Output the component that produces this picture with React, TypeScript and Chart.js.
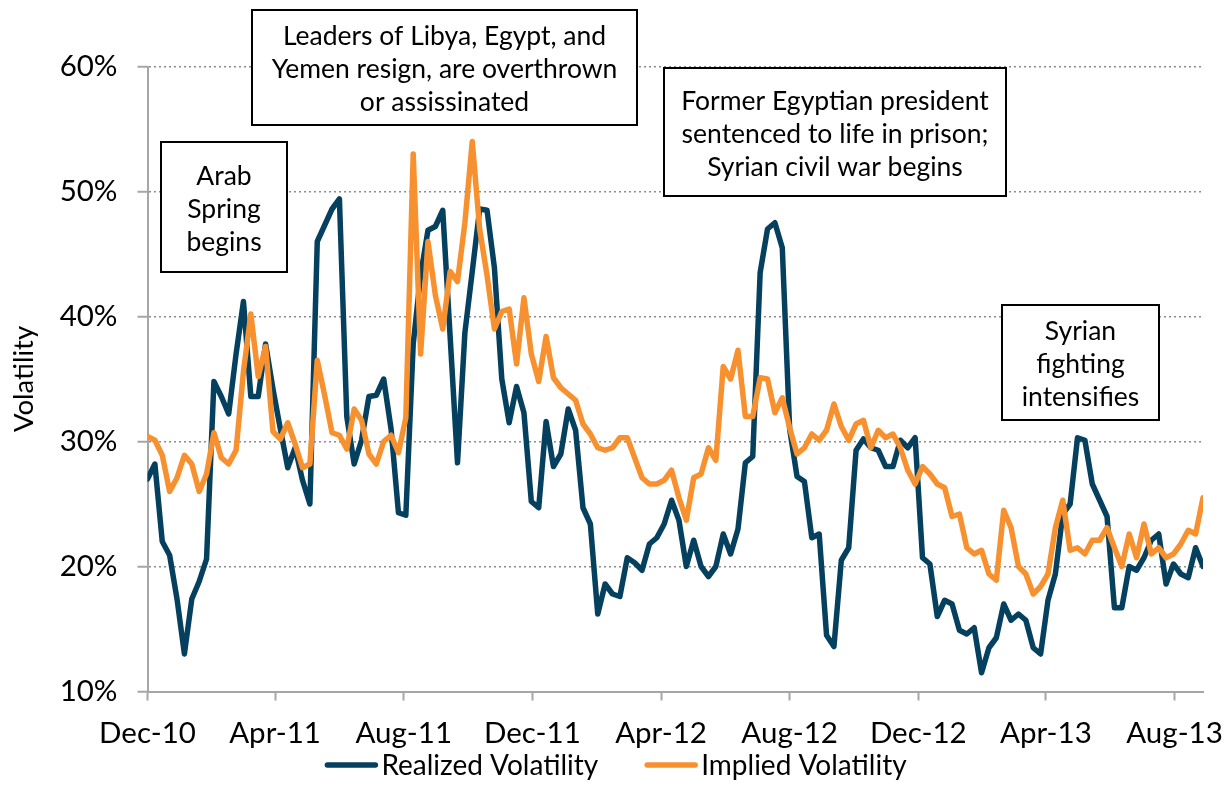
import React, { useEffect, useRef } from "react";
import { Chart, registerables } from "chart.js";

Chart.register(...registerables);

// ---------- DATA ----------
const startDate = "2010-12-01";
const stepDays = 7; // weekly observations

const tickLabels = ["Dec-10", "Apr-11", "Aug-11", "Dec-11", "Apr-12", "Aug-12", "Dec-12", "Apr-13", "Aug-13"];
const tickDates = ["2010-12-01", "2011-04-01", "2011-08-01", "2011-12-01", "2012-04-01", "2012-08-01", "2012-12-01", "2013-04-01", "2013-08-01"];

const yTicks = [10, 20, 30, 40, 50, 60];

const seriesNames = ["Realized Volatility", "Implied Volatility"];

const realized = [
  27, 28.2, 22, 20.9, 17.4, 13, 17.4, 18.8, 20.6, 34.8,
  33.6, 32.2, 37, 41.2, 33.6, 33.6, 37.8, 34.2, 31, 27.9,
  29.5, 26.9, 25, 46, 47.3, 48.6, 49.4, 32, 28.2, 30.1,
  33.6, 33.7, 35, 31, 24.3, 24.1, 37.8, 43.3, 46.9, 47.2,
  48.5, 38.4, 28.3, 38.7, 43.6, 48.6, 48.5, 43.9, 35, 31.5,
  34.4, 32.3, 25.2, 24.7, 31.6, 28, 29, 32.6, 30.9, 24.7,
  23.4, 16.2, 18.6, 17.8, 17.6, 20.7, 20.3, 19.7, 21.8, 22.3,
  23.4, 25.3, 23.7, 20, 22.1, 20, 19.2, 20, 22.6, 21,
  23, 28.3, 28.8, 43.5, 47, 47.5, 45.5, 31, 27.2, 26.8,
  22.3, 22.6, 14.5, 13.6, 20.5, 21.5, 29.3, 30.2, 29.5, 29.3,
  28, 28, 30.1, 29.5, 30.3, 20.7, 20.2, 16, 17.3, 17,
  14.9, 14.6, 15.1, 11.5, 13.5, 14.3, 17, 15.7, 16.2, 15.7,
  13.5, 13, 17.3, 19.4, 24.2, 25, 30.3, 30.1, 26.6, 25.3,
  24, 16.7, 16.7, 20, 19.7, 20.7, 22.1, 22.6, 18.6, 20.2,
  19.4, 19.1, 21.5, 20,
];

const implied = [
  30.4, 30.1, 28.9, 26, 27.1, 28.9, 28.2, 26, 27.4, 30.7,
  28.7, 28.2, 29.3, 35.6, 40.2, 35.2, 37.6, 30.8, 30.2, 31.5,
  29.8, 27.9, 28.2, 36.5, 33.7, 30.7, 30.5, 29.4, 32.6, 31.7,
  29, 28.2, 30, 30.5, 29.1, 31.9, 53, 37, 46, 41.7,
  39, 43.6, 42.8, 47.5, 54, 47, 43.3, 39, 40.4, 40.6,
  36.2, 41.5, 37, 34.8, 38.4, 35.1, 34.3, 33.8, 33.3, 31.4,
  30.6, 29.5, 29.3, 29.5, 30.3, 30.3, 28.7, 27.1, 26.6, 26.6,
  26.9, 27.7, 25.5, 23.7, 27.1, 27.4, 29.5, 28.5, 36, 35,
  37.3, 32, 32, 35.1, 35, 32.3, 33.5, 31.1, 29, 29.5,
  30.6, 30.1, 30.9, 33, 31.2, 30.1, 31.4, 31.7, 29.5, 30.9,
  30.3, 30.6, 29.5, 27.7, 26.6, 28, 27.4, 26.6, 26.3, 24,
  24.2, 21.5, 21, 21.3, 19.4, 18.9, 24.5, 23.1, 20, 19.4,
  17.8, 18.4, 19.4, 23.1, 25.3, 21.3, 21.5, 21, 22.1, 22.1,
  23.1, 21.5, 20, 22.6, 20.7, 23.4, 21, 21.5, 20.7, 21,
  21.8, 22.9, 22.6, 25.5,
];

// annotation boxes anchored in data units (days since start, volatility %)
const annotations = [
  { lines: ["Arab", "Spring", "begins"], x0: 13, x1: 132.5, yTop: 54, yBottom: 43.56 },
  { lines: ["Leaders of Libya, Egypt, and", "Yemen resign, are overthrown", "or assissinated"], x0: 99.3, x1: 464.4, yTop: 64.48, yBottom: 55.32 },
  { lines: ["Former Egyptian president", "sentenced to life in prison;", "Syrian civil war begins"], x0: 490, x1: 814.4, yTop: 59.88, yBottom: 49.68 },
  { lines: ["Syrian", "fighting", "intensifies"], x0: 810.6, x1: 959.5, yTop: 40.92, yBottom: 31.72 },
];

// ---------- STYLE ----------
const FONT = "Lato, 'Noto Sans', sans-serif";
const BLUE = "#05405F";
const ORANGE = "#F7912F";
const AXIS_GRAY = "#A6A6A6";
const GRID_GRAY = "#8C8C8C";

const dayMs = 24 * 3600 * 1000;
const dayOf = (d: string) => Math.round((Date.parse(d + "T00:00:00Z") - Date.parse(startDate + "T00:00:00Z")) / dayMs);
const tickDays = tickDates.map(dayOf);

const overlayPlugin = {
  id: "overlay",
  afterDraw(chart: any) {
    const ctx = chart.ctx as CanvasRenderingContext2D;
    const xs = chart.scales.x;
    const ys = chart.scales.y;
    ctx.save();
    // annotation boxes
    for (const a of annotations) {
      const l = Math.round(xs.getPixelForValue(a.x0));
      const r = Math.round(xs.getPixelForValue(a.x1));
      const t = Math.round(ys.getPixelForValue(a.yTop));
      const b = Math.round(ys.getPixelForValue(a.yBottom));
      ctx.fillStyle = "#ffffff";
      ctx.fillRect(l, t, r - l, b - t);
      ctx.lineWidth = 2;
      ctx.strokeStyle = "#000000";
      ctx.strokeRect(l, t, r - l, b - t);
      ctx.fillStyle = "#000000";
      ctx.font = `26.5px ${FONT}`;
      ctx.textAlign = "center";
      ctx.textBaseline = "middle";
      const cx = (l + r) / 2;
      const cy = (t + b) / 2 + 2;
      const lh = 33;
      a.lines.forEach((line, k) => {
        ctx.fillText(line, cx, cy + (k - (a.lines.length - 1) / 2) * lh);
      });
    }
    // legend
    const colors = [BLUE, ORANGE];
    ctx.font = `28px ${FONT}`;
    const sample = 52;
    const gapText = 4;
    const gapItems = 47;
    const widths = seriesNames.map((n) => ctx.measureText(n).width);
    const total = widths.reduce((s, w) => s + sample + gapText + w, 0) + gapItems;
    let x = 616 - total / 2;
    const y = 765;
    seriesNames.forEach((n, k) => {
      ctx.strokeStyle = colors[k];
      ctx.lineWidth = 5.5;
      ctx.lineCap = "round";
      ctx.beginPath();
      ctx.moveTo(x + 2, y);
      ctx.lineTo(x + sample - 2, y);
      ctx.stroke();
      ctx.fillStyle = "#000000";
      ctx.textAlign = "left";
      ctx.textBaseline = "middle";
      ctx.fillText(n, x + sample + gapText, y + 1);
      x += sample + gapText + widths[k] + gapItems;
    });
    ctx.restore();
  },
};

export default function App() {
  const canvasRef = useRef<HTMLCanvasElement | null>(null);

  useEffect(() => {
    if (!canvasRef.current) return;
    Chart.defaults.font.family = FONT;
    const chart = new Chart(canvasRef.current, {
      type: "line",
      data: {
        datasets: [
          {
            label: seriesNames[0],
            data: realized.map((v, i) => ({ x: i * stepDays, y: v })),
            borderColor: BLUE,
            backgroundColor: BLUE,
            borderWidth: 5.5,
            pointRadius: 0,
            tension: 0,
            borderJoinStyle: "round",
            borderCapStyle: "round",
            order: 2,
          },
          {
            label: seriesNames[1],
            data: implied.map((v, i) => ({ x: i * stepDays, y: v })),
            borderColor: ORANGE,
            backgroundColor: ORANGE,
            borderWidth: 5.5,
            pointRadius: 0,
            tension: 0,
            borderJoinStyle: "round",
            borderCapStyle: "round",
            order: 1,
          },
        ],
      },
      options: {
        animation: false,
        responsive: false,
        devicePixelRatio: 1,
        layout: { padding: { left: 0, right: 27, top: 66.5, bottom: 0 } },
        plugins: {
          legend: { display: false },
          tooltip: { enabled: false },
        },
        scales: {
          x: {
            type: "linear",
            min: 0,
            max: (realized.length - 1) * stepDays,
            afterBuildTicks: (scale: any) => {
              scale.ticks = tickDays.map((v) => ({ value: v }));
            },
            afterFit: (scale: any) => {
              scale.height = 116.5;
              scale.paddingLeft = 0;
              scale.paddingRight = 0;
            },
            ticks: {
              autoSkip: false,
              maxRotation: 0,
              minRotation: 0,
              padding: 15,
              color: "#000000",
              font: { size: 29.5, family: FONT },
              callback: (v: any) => {
                const k = tickDays.indexOf(Number(v));
                return k >= 0 ? tickLabels[k] : "";
              },
            },
            grid: {
              display: true,
              drawOnChartArea: false,
              drawTicks: true,
              tickLength: 9,
              tickColor: AXIS_GRAY,
              tickWidth: 2,
              color: AXIS_GRAY,
            },
            border: { display: true, color: AXIS_GRAY, width: 2 },
          },
          y: {
            type: "linear",
            min: yTicks[0],
            max: yTicks[yTicks.length - 1],
            afterBuildTicks: (scale: any) => {
              scale.ticks = yTicks.map((v) => ({ value: v }));
            },
            afterFit: (scale: any) => {
              scale.width = 147.5;
              scale.paddingTop = 0;
              scale.paddingBottom = 0;
            },
            ticks: {
              padding: 20,
              color: "#000000",
              font: { size: 29.5, family: FONT },
              callback: (v: any) => `${v}%`,
            },
            title: {
              display: true,
              text: "Volatility",
              color: "#000000",
              font: { size: 27.5, family: FONT },
              padding: { top: 8, bottom: 0 },
            },
            grid: {
              display: true,
              drawOnChartArea: true,
              drawTicks: true,
              tickLength: 10,
              tickColor: AXIS_GRAY,
              tickWidth: 2,
              tickBorderDash: [],
              color: GRID_GRAY,
              lineWidth: 1.5,
            },
            border: { display: true, color: AXIS_GRAY, width: 2, dash: [2, 3] },
          },
        },
      },
      plugins: [overlayPlugin],
    } as any);
    return () => chart.destroy();
  }, []);

  return (
    <div style={{ position: "fixed", left: 0, top: 0, width: 1230, height: 808, background: "#ffffff" }}>
      <canvas ref={canvasRef} width={1230} height={808} style={{ display: "block", width: 1230, height: 808 }} />
    </div>
  );
}
